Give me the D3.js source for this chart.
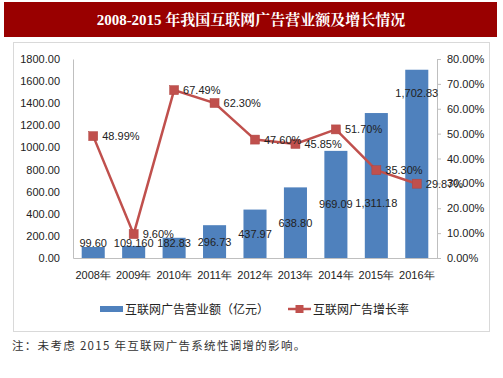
<!DOCTYPE html>
<html><head><meta charset="utf-8">
<script src="https://cdn.jsdelivr.net/npm/d3@7"></script>
<style>
html,body{margin:0;padding:0;background:#fff;}
svg{display:block;}
</style></head>
<body>
<svg id="c" width="503" height="378"></svg>
<script>
const years = ["2008年","2009年","2010年","2011年","2012年","2013年","2014年","2015年","2016年"];
const revenue = [99.60,109.16,182.83,296.73,437.97,638.80,969.09,1311.18,1702.83];
const revenueLabels = ["99.60","109.160","182.83","296.73","437.97","638.80","969.09","1,311.18","1,702.83"];
const growth = [48.99,9.60,67.49,62.30,47.60,45.85,51.70,35.30,29.87];
const leftTicks = [0,200,400,600,800,1000,1200,1400,1600,1800];
const rightTicks = [0,10,20,30,40,50,60,70,80];
const titleText = "2008-2015 年我国互联网广告营业额及增长情况";
const legendNames = ["互联网广告营业额（亿元）","互联网广告增长率"];
const noteText = "注：未考虑 2015 年互联网广告系统性调增的影响。";

const svg = d3.select("#c");
const font = "'Liberation Sans', Arial, sans-serif";
const fs = 11;
const L = 73, R = 437, T = 59, B = 258;

// title banner
svg.append("rect").attr("x",4).attr("y",2).attr("width",493).attr("height",35).attr("fill","#990000");
svg.append("text").attr("x",251).attr("y",25).attr("text-anchor","middle")
  .attr("fill","#fff").attr("font-family","'Liberation Serif','Noto Serif CJK SC','Noto Sans CJK SC',serif")
  .attr("font-weight","bold").attr("font-size",15).text(titleText);

// chart box
svg.append("rect").attr("x",13.5).attr("y",42.5).attr("width",476).attr("height",289)
  .attr("fill","#fff").attr("stroke","#d9d9d9");

const x = d3.scaleBand().domain(years).range([L,R]).paddingInner(0.43).paddingOuter(0.215);
const y = d3.scaleLinear().domain([0,1800]).range([B,T]);
const y2 = d3.scaleLinear().domain([0,80]).range([B,T]);

// axes
const gl = svg.append("g").attr("transform",`translate(${L},0)`)
  .call(d3.axisLeft(y).tickValues(leftTicks).tickSize(0).tickPadding(13).tickFormat(d=>d3.format(".2f")(d)));
gl.select(".domain").attr("stroke","#bfbfbf");
gl.selectAll("text").attr("font-family",font).attr("font-size",fs).attr("fill","#222");

const gr = svg.append("g").attr("transform",`translate(${R},0)`)
  .call(d3.axisRight(y2).tickValues(rightTicks).tickSize(4).tickPadding(6).tickFormat(d=>d3.format(".2f")(d)+"%"));
gr.select(".domain").attr("stroke","#bfbfbf");
gr.selectAll("line").attr("stroke","#bfbfbf");
gr.selectAll("text").attr("font-family",font).attr("font-size",fs).attr("fill","#222");

// bars
svg.append("g").selectAll("rect").data(revenue).join("rect")
  .attr("x",(d,i)=>x(years[i])).attr("width",x.bandwidth())
  .attr("y",d=>y(d)).attr("height",d=>B-y(d)).attr("fill","#4F81BD");

const gb = svg.append("g").attr("transform",`translate(0,${B})`)
  .call(d3.axisBottom(x).tickSize(0).tickPadding(13));
gb.select(".domain").attr("stroke","#bfbfbf");
gb.selectAll("text").attr("font-family",font).attr("font-size",fs).attr("fill","#222");

// bar labels
const labelShift = [0,0,0,0,0,0,0,17,-71];
svg.append("g").selectAll("text").data(revenue).join("text")
  .attr("x",(d,i)=>x(years[i])+x.bandwidth()/2)
  .attr("y",(d,i)=>Math.min((y(d)+B)/2, 243)+labelShift[i]+4)
  .attr("text-anchor","middle").attr("font-family",font).attr("font-size",fs).attr("fill","#222")
  .text((d,i)=>revenueLabels[i]);

// line
const cx = i => x(years[i])+x.bandwidth()/2;
svg.append("path").datum(growth)
  .attr("d",d3.line().x((d,i)=>cx(i)).y(d=>y2(d)))
  .attr("fill","none").attr("stroke","#C0504D").attr("stroke-width",2.5);
svg.append("g").selectAll("rect").data(growth).join("rect")
  .attr("x",(d,i)=>cx(i)-4.5).attr("y",d=>y2(d)-4.5).attr("width",9).attr("height",9)
  .attr("fill","#C0504D").attr("stroke","#b04540").attr("stroke-width",0.5);
svg.append("g").selectAll("text").data(growth).join("text")
  .attr("x",(d,i)=>cx(i)+9).attr("y",d=>y2(d)+4)
  .attr("font-family",font).attr("font-size",fs).attr("fill","#222")
  .text(d=>d3.format(".2f")(d)+"%");

// legend
const lg = svg.append("g").attr("font-family",font).attr("font-size",12).attr("fill","#222");
lg.append("rect").attr("x",100).attr("y",306).attr("width",23).attr("height",6).attr("fill","#4F81BD");
lg.append("text").attr("x",125).attr("y",314).attr("font-family","'Noto Sans CJK SC',sans-serif").text(legendNames[0]);
lg.append("line").attr("x1",288).attr("x2",311).attr("y1",309).attr("y2",309).attr("stroke","#C0504D").attr("stroke-width",2.5);
lg.append("rect").attr("x",295.5).attr("y",305).attr("width",8).attr("height",8).attr("fill","#C0504D");
lg.append("text").attr("x",313).attr("y",314).attr("font-family","'Noto Sans CJK SC',sans-serif").text(legendNames[1]);

// note
svg.append("text").attr("x",12).attr("y",350).attr("font-family","'Noto Sans CJK SC',sans-serif")
  .attr("font-size",11.5).attr("letter-spacing",1.3).attr("fill","#333").text(noteText);
</script>
</body></html>
